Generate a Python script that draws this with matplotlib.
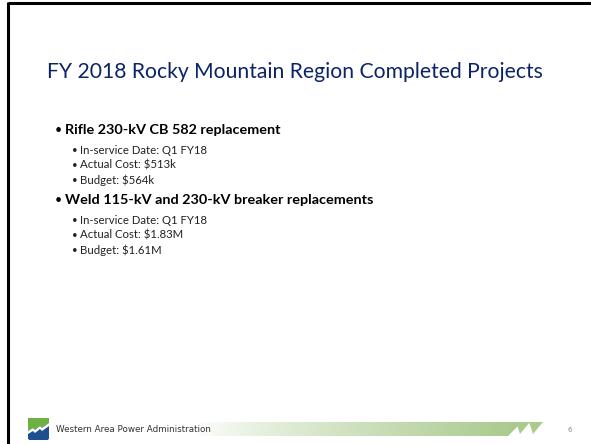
import numpy as np
import matplotlib
matplotlib.use("Agg")
import matplotlib.pyplot as plt
from matplotlib.patches import Polygon, FancyBboxPatch

# ---- content ----
title = "FY 2018 Rocky Mountain Region Completed Projects"
projects = ["Rifle 230-kV CB 582 replacement",
            "Weld 115-kV and 230-kV breaker replacements"]
in_service = ["Q1 FY18", "Q1 FY18"]
actual_cost = ["$513k", "$1.83M"]
budget = ["$564k", "$1.61M"]
footer_text = "Western Area Power Administration"
page_number = "6"

W, H = 591, 444
fig = plt.figure(figsize=(W / 100, H / 100), dpi=100)
ax = fig.add_axes([0, 0, 1, 1])
ax.set_xlim(0, W)
ax.set_ylim(H, 0)
ax.axis("off")

body_font = ["Lato", "DejaVu Sans"]
navy = "#0B2466"

# slide border (top and left)
ax.plot([8, W + 5], [3, 3], color="black", lw=2.2, solid_capstyle="butt")
ax.plot([8, 8], [2, H + 5], color="black", lw=2.2, solid_capstyle="butt")

# title
ax.text(47, 72, title, fontsize=15.2, color=navy, family=body_font,
        va="center", ha="left")

# bullets
y = 130
for i, proj in enumerate(projects):
    ax.text(58.5, y, "•", fontsize=9, color="black", family=body_font,
            va="center", ha="center")
    ax.text(65, y, proj, fontsize=10.4, fontweight="bold", color="black",
            family=body_font, va="center")
    y += 20
    subs = [f"In-service Date: {in_service[i]}",
            f"Actual Cost: {actual_cost[i]}",
            f"Budget: {budget[i]}"]
    for s in subs:
        ax.text(74.5, y, "•", fontsize=7, color="#222222", family=body_font,
                va="center", ha="center")
        ax.text(80.5, y, s, fontsize=8.2, color="#222222", family=body_font, va="center")
        y += 15
    y += 5

# ---- footer ----
# logo
lx0, ly0, lw, lh = 28, 418, 21, 22
logo_bg = FancyBboxPatch((lx0, ly0), lw, lh, boxstyle="round,pad=0,rounding_size=2",
                         fc="#1E4F8F", ec="none")
ax.add_patch(logo_bg)
green_top = Polygon([(lx0, ly0), (lx0 + lw, ly0), (lx0 + lw, ly0 + 5),
                     (lx0 + 14, ly0 + 10), (lx0 + 12, ly0 + 8), (lx0 + 7, ly0 + 12),
                     (lx0 + 5, ly0 + 10), (lx0, ly0 + 13)], closed=True,
                    fc="#6FB043", ec="none")
ax.add_patch(green_top)
bolt = Polygon([(lx0, ly0 + 13), (lx0 + 5, ly0 + 10), (lx0 + 7, ly0 + 12),
                (lx0 + 12, ly0 + 8), (lx0 + 14, ly0 + 10), (lx0 + lw, ly0 + 5),
                (lx0 + lw, ly0 + 8), (lx0 + 14, ly0 + 13), (lx0 + 12, ly0 + 11),
                (lx0 + 7, ly0 + 15), (lx0 + 5, ly0 + 13), (lx0, ly0 + 16)],
               closed=True, fc="white", ec="none")
ax.add_patch(bolt)

ax.text(56, 429, footer_text, fontsize=6.3, color="#333333",
        family=["DejaVu Sans"], va="center", ha="left")

# gradient bar
bx0, bx1, by0, by1 = 195, 522, 422, 436
grad = np.linspace(0, 1, 256) ** 0.8
green = np.array([0.66, 0.79, 0.55])
img = np.ones((1, 256, 3)) * (1 - grad[None, :, None]) + green[None, None, :] * grad[None, :, None]
im = ax.imshow(img, extent=[bx0, bx1, by1, by0], aspect="auto", zorder=1)
bar_shape = Polygon([(bx0, by0), (bx1, by0), (bx1 - 14, by1), (bx0, by1)],
                    closed=True, transform=ax.transData)
im.set_clip_path(bar_shape)
for dx in (0, 13):
    ax.add_patch(Polygon([(bx1 - 10 + dx + 4, by0), (bx1 + dx + 8, by0),
                          (bx1 - 6 + dx + 4, by1 - 2)], closed=True,
                         fc="#A9CB8C", ec="none"))
ax.text(568, 430, page_number, fontsize=5, color="#888888",
        family=["DejaVu Sans"], va="center")

ax.set_xlim(0, W)
ax.set_ylim(H, 0)
fig.savefig("out.png", dpi=100)
